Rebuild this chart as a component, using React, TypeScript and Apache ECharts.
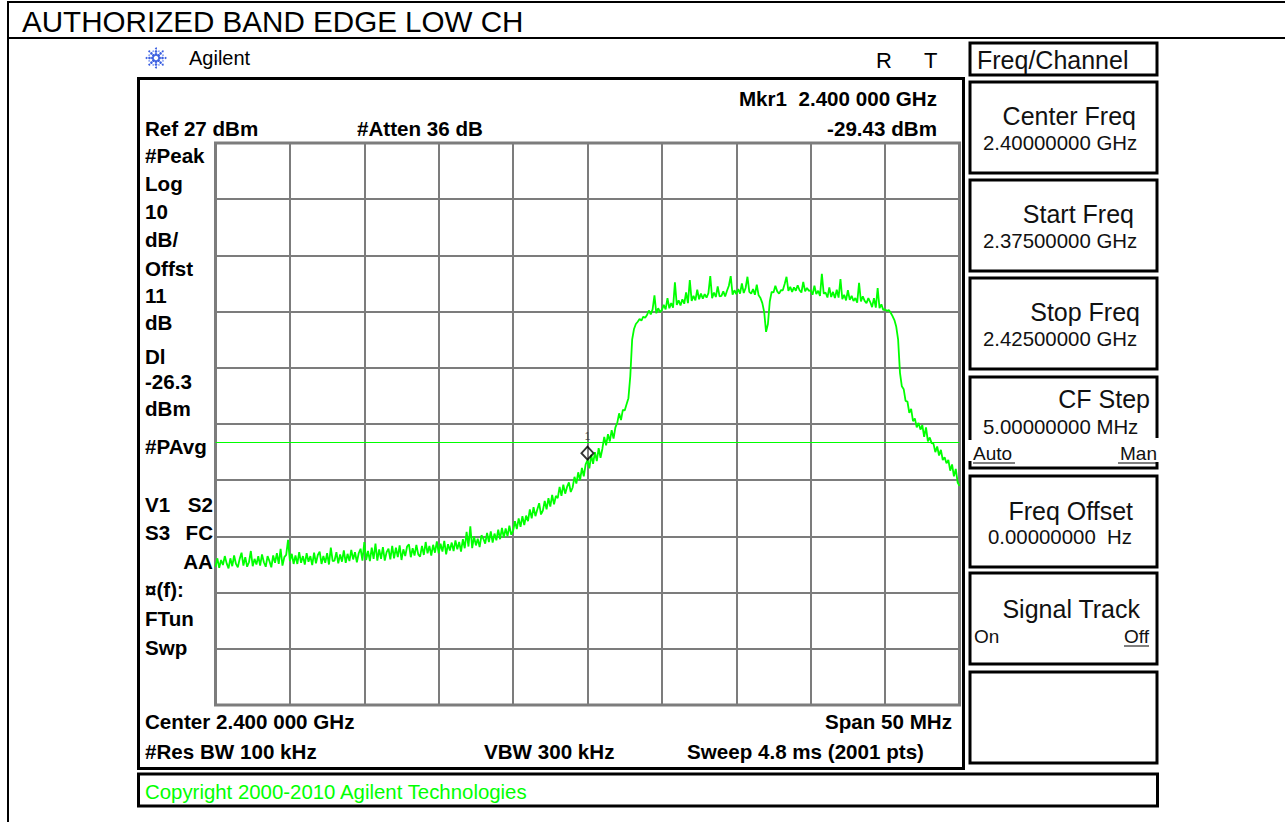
import React, { useEffect, useRef } from "react";
import * as echarts from "echarts";

// Analyzer state
const REF_LEVEL_DBM = 27;
const DB_PER_DIV = 10;
const START_MHZ = 2375;
const STOP_MHZ = 2425;
const DIV_MHZ = 5;
const STEP_MHZ = 0.125;
const DISPLAY_LINE_DBM = -26.3;
const MARKER_MHZ = 2400;
const MARKER_DBM = -29.43;

// Trace in dBm, one row per MHz (8 points each), starting at 2375 MHz
const traceLowerSkirt: number[][] = [
  [-48.4, -46.9, -48.6, -47.2, -48.1, -46.5, -47.8, -48.7],
  [-46.9, -48.3, -46.4, -47.9, -48.5, -47.0, -45.9, -48.2],
  [-46.7, -48.4, -47.6, -45.6, -48.3, -47.0, -48.0, -46.5],
  [-48.2, -46.2, -47.6, -48.4, -46.5, -47.4, -48.5, -46.4],
  [-47.7, -46.0, -47.9, -45.2, -48.2, -46.7, -46.3, -43.6],
  [-47.4, -46.1, -47.9, -46.4, -47.9, -45.8, -47.7, -46.5],
  [-48.0, -46.0, -47.5, -46.5, -48.1, -45.9, -47.8, -46.3],
  [-45.7, -47.9, -46.5, -47.7, -46.0, -48.0, -45.0, -47.4],
  [-47.3, -45.8, -47.8, -46.2, -47.5, -45.5, -47.7, -46.1],
  [-47.4, -45.4, -47.1, -45.8, -47.6, -46.0, -45.2, -47.3],
  [-44.0, -47.2, -45.6, -47.4, -45.0, -47.0, -44.3, -47.3],
  [-45.3, -47.0, -44.9, -47.3, -45.8, -45.2, -47.1, -44.7],
  [-46.9, -45.0, -46.7, -44.6, -47.2, -45.3, -46.5, -44.8],
  [-44.4, -46.7, -45.1, -46.4, -44.5, -46.2, -46.6, -44.7],
  [-46.3, -44.0, -46.0, -44.7, -46.4, -44.5, -45.9, -43.9],
  [-46.0, -44.3, -45.7, -43.8, -46.2, -44.4, -45.5, -44.1],
  [-45.6, -43.7, -45.3, -44.0, -45.7, -43.5, -45.1, -42.2],
  [-44.8, -41.2, -45.1, -43.0, -44.6, -43.4, -44.9, -42.8],
  [-43.4, -44.3, -42.4, -44.0, -42.1, -44.1, -42.5, -43.7],
  [-41.8, -43.5, -41.5, -43.2, -41.6, -43.0, -41.1, -42.7],
  [-42.0, -40.3, -41.7, -39.8, -41.3, -39.4, -41.0, -39.3],
  [-40.3, -38.2, -39.8, -37.8, -39.4, -38.2, -37.1, -39.1],
  [-38.4, -36.7, -38.2, -36.2, -37.7, -35.6, -37.3, -35.8],
  [-36.2, -34.2, -35.8, -33.8, -35.4, -34.2, -33.4, -35.1],
  [-34.3, -32.4, -33.6, -31.6, -33.0, -30.8, -32.3, -30.2],
];

const traceChannel: number[][] = [
  [-29.43, -30.9, -28.5, -30.1, -28.0, -29.6, -27.3, -29.0],
  [-27.4, -25.3, -26.8, -24.8, -26.1, -24.1, -25.6, -23.6],
  [-22.8, -21.1, -22.3, -20.5, -20.6, -19.5, -18.4, -14.5],
  [-8.0, -6.1, -5.2, -4.8, -4.3, -4.6, -3.9, -4.1],
  [-3.6, -2.8, -3.5, -2.6, -0.1, -3.3, -2.4, -3.1],
  [-2.7, -1.8, -2.6, -0.6, -2.4, -1.5, -2.3, 2.2],
  [-1.8, -1.0, -1.9, -0.8, -1.6, 0.4, -1.5, 2.6],
  [-1.1, -0.2, -1.0, 0.9, -0.8, 0.2, -0.7, 0.1],
  [-0.5, 0.3, 3.3, -0.6, 0.4, -0.4, 1.5, -0.3],
  [-0.2, 0.6, -0.3, 0.7, 1.6, 3.3, 0.0, 0.8],
  [0.1, 1.0, 0.2, 2.0, 0.3, 1.2, 3.2, 0.5],
  [0.2, 1.0, 0.0, 1.8, -0.1, -0.6, -1.5, -3.1],
  [-6.6, -5.2, -1.2, 0.5, 0.4, 1.6, 0.6, 0.2],
  [0.8, 0.8, 1.9, 3.2, 0.7, 1.4, 0.5, 1.3],
  [0.7, 1.7, 0.8, 0.4, 2.3, 0.6, 1.2, 0.7],
  [0.8, 0.0, 1.6, 0.1, 0.7, -0.2, 3.7, 0.2],
  [0.4, -0.5, 1.3, -0.4, 0.5, -0.6, 0.9, -0.5],
  [2.8, -0.8, 0.0, -1.0, 0.8, -0.9, -0.2, -1.1],
  [-0.6, -1.4, 2.1, -1.2, -0.3, -1.1, -1.5, -0.6],
  [-1.3, -2.2, -0.6, -2.3, 1.2, -2.4, -1.7, -2.7],
  [-2.6, -2.9, -2.7, -3.2, -3.8, -4.5, -5.7, -8.0],
];

const traceUpperSkirt: number[][] = [
  [-13.9, -16.3, -16.8, -18.9, -19.0, -21.0, -20.3, -22.5],
  [-22.0, -23.6, -22.8, -24.0, -23.2, -25.3, -23.6, -26.1],
  [-25.4, -26.4, -26.5, -28.0, -27.0, -28.6, -27.6, -29.4],
  [-28.9, -30.0, -29.4, -31.3, -30.2, -32.3, -31.0, -33.4],
  [-34.0],
];

const leftAnnotations = ["#Peak", "Log", `${DB_PER_DIV}`, "dB/", "Offst", "11", "dB", "Dl", DISPLAY_LINE_DBM.toFixed(1), "dBm", "#PAvg"];
const statusAnnotations = ["V1", "S2", "S3", "FC", "AA", "¤(f):", "FTun", "Swp"];

const softkeyTitles = ["Center Freq", "Start Freq", "Stop Freq", "CF Step", "Freq Offset", "Signal Track"];
const softkeyValues = ["2.40000000 GHz", "2.37500000 GHz", "2.42500000 GHz", "5.00000000 MHz", "0.00000000  Hz"];

const FONT = '"Liberation Sans", Arial, sans-serif';
const GREEN = "#00ff00";
const GRID_GRAY = "#7c7c7c";
const LABEL_SIZE = 20.6;
const KEY_SIZE = 25;

function fmtGHz(mhz: number): string {
  const s = (mhz / 1000).toFixed(6);
  return `${s.slice(0, 5)} ${s.slice(5)} GHz`;
}

function text(x: number, y: number, t: string, o: any = {}) {
  return {
    type: "text",
    x,
    y,
    silent: true,
    z: 10,
    style: {
      text: t,
      fill: o.fill ?? "#000",
      fontSize: o.size ?? LABEL_SIZE,
      fontWeight: o.bold ? "bold" : "normal",
      fontFamily: FONT,
      align: o.align ?? "left",
      verticalAlign: "middle",
    },
  };
}

function box(x: number, y: number, w: number, h: number, lw = 3) {
  return {
    type: "rect",
    silent: true,
    z: 5,
    shape: { x, y, width: w, height: h },
    style: { fill: "none", stroke: "#000", lineWidth: lw },
  };
}

function poly(points: number[][], lw = 3) {
  return { type: "polyline", silent: true, z: 5, shape: { points }, style: { fill: "none", stroke: "#000", lineWidth: lw } };
}

function underline(x1: number, x2: number, y: number) {
  return { type: "line", silent: true, z: 10, shape: { x1, y1: y, x2, y2: y }, style: { stroke: "#000", lineWidth: 1 } };
}

function buildGraphics() {
  const g: any[] = [];
  // page frame and title row
  g.push({ type: "line", silent: true, shape: { x1: 8, y1: 2, x2: 1285, y2: 2 }, style: { stroke: "#000", lineWidth: 2 } });
  g.push({ type: "line", silent: true, shape: { x1: 8, y1: 1, x2: 8, y2: 822 }, style: { stroke: "#000", lineWidth: 2 } });
  g.push({ type: "line", silent: true, shape: { x1: 8, y1: 38, x2: 1285, y2: 38 }, style: { stroke: "#000", lineWidth: 2 } });
  g.push(text(22, 21, "AUTHORIZED BAND EDGE LOW CH", { size: 29.6 }));

  // Agilent spark logo
  const cx = 156, cy = 58;
  for (let a = 0; a < 8; a++) {
    const ang = (a * Math.PI) / 4;
    [[3.5, 1.5], [6.5, 1.3], [9.5, 1.0]].forEach(([r, s]) => {
      g.push({ type: "circle", silent: true, shape: { cx: cx + r * Math.cos(ang), cy: cy + r * Math.sin(ang), r: s }, style: { fill: "#3b5fe0" } });
    });
    const a2 = ang + Math.PI / 8;
    g.push({ type: "circle", silent: true, shape: { cx: cx + 7.5 * Math.cos(a2), cy: cy + 7.5 * Math.sin(a2), r: 0.8 }, style: { fill: "#6f8cf0" } });
  }
  g.push(text(189, 58, "Agilent", { size: 20 }));
  g.push(text(876, 60, "R", { size: 22 }));
  g.push(text(924, 60, "T", { size: 22 }));

  // display frame
  g.push(box(138.5, 78.5, 825, 690));
  g.push(text(937, 98, `Mkr1  ${fmtGHz(MARKER_MHZ)}`, { bold: true, align: "right" }));
  g.push(text(937, 128, `${MARKER_DBM.toFixed(2)} dBm`, { bold: true, align: "right" }));
  g.push(text(145, 128, `Ref ${REF_LEVEL_DBM} dBm`, { bold: true }));
  g.push(text(357, 128, "#Atten 36 dB", { bold: true }));

  const leftY = [155, 183, 211, 239, 268, 295, 322, 356, 381, 408, 446];
  leftAnnotations.forEach((t, i) => g.push(text(145, leftY[i], t, { bold: true })));
  g.push(text(145, 504, statusAnnotations[0], { bold: true }));
  g.push(text(213, 504, statusAnnotations[1], { bold: true, align: "right" }));
  g.push(text(145, 532, statusAnnotations[2], { bold: true }));
  g.push(text(213, 532, statusAnnotations[3], { bold: true, align: "right" }));
  g.push(text(213, 561, statusAnnotations[4], { bold: true, align: "right" }));
  g.push(text(145, 589, statusAnnotations[5], { bold: true }));
  g.push(text(145, 618, statusAnnotations[6], { bold: true }));
  g.push(text(145, 647, statusAnnotations[7], { bold: true }));

  g.push(text(145, 721, `Center ${fmtGHz((START_MHZ + STOP_MHZ) / 2)}`, { bold: true }));
  g.push(text(952, 721, `Span ${STOP_MHZ - START_MHZ} MHz`, { bold: true, align: "right" }));
  g.push(text(145, 751, "#Res BW 100 kHz", { bold: true }));
  g.push(text(484, 751, "VBW 300 kHz", { bold: true }));
  g.push(text(687, 751, "Sweep 4.8 ms (2001 pts)", { bold: true }));

  // copyright bar
  g.push(box(138.5, 774, 1019, 32));
  g.push(text(145, 792, "Copyright 2000-2010 Agilent Technologies", { fill: GREEN, size: 20.4 }));

  // softkey menu
  g.push(box(970, 43, 187, 32));
  g.push(text(977, 60, "Freq/Channel", { size: KEY_SIZE, fill: "#111" }));
  const tops = [82, 180, 278, 377, 476, 573, 672];
  const titleRight = [1136, 1134, 1140, 1150, 1133, 1140];
  tops.forEach((t, i) => {
    if (i === 3) {
      g.push(poly([[970, 440], [970, t], [1157, t], [1157, 438]]));
      g.push(poly([[970, 461], [970, 468], [1157, 468], [1157, 462]]));
    } else {
      g.push(box(970, t, 187, 91));
    }
  });
  [0, 1, 2].forEach((i) => {
    g.push(text(titleRight[i], tops[i] + 34, softkeyTitles[i], { size: KEY_SIZE, align: "right", fill: "#111" }));
    g.push(text(983, tops[i] + 61, softkeyValues[i], { size: 20.4, fill: "#111" }));
  });
  g.push(text(titleRight[3], 399, softkeyTitles[3], { size: KEY_SIZE, align: "right", fill: "#111" }));
  g.push(text(983, 427, softkeyValues[3], { size: 20.4, fill: "#111" }));
  g.push(text(973, 453, "Auto", { size: 19, fill: "#111" }));
  g.push(underline(973, 1015, 463));
  g.push(text(1157, 453, "Man", { size: 19, align: "right", fill: "#111" }));
  g.push(underline(1118, 1157, 463));
  g.push(text(titleRight[4], tops[4] + 35, softkeyTitles[4], { size: KEY_SIZE, align: "right", fill: "#111" }));
  g.push(text(988, tops[4] + 61, softkeyValues[4], { size: 20.4, fill: "#111" }));
  g.push(text(titleRight[5], tops[5] + 36, softkeyTitles[5], { size: KEY_SIZE, align: "right", fill: "#111" }));
  g.push(text(974, tops[5] + 63, "On", { size: 19, fill: "#111" }));
  g.push(text(1149, tops[5] + 63, "Off", { size: 19, align: "right", fill: "#111" }));
  g.push(underline(1124, 1149, tops[5] + 73));
  return g;
}

export default function App() {
  const ref = useRef<HTMLDivElement>(null);

  useEffect(() => {
    if (!ref.current) return;
    const chart = echarts.init(ref.current, undefined, { renderer: "svg" });
    const trace = [...traceLowerSkirt, ...traceChannel, ...traceUpperSkirt].flat();
    const data = trace.map((v, i) => [START_MHZ + i * STEP_MHZ, v - REF_LEVEL_DBM]);

    chart.setOption({
      animation: false,
      backgroundColor: "#fff",
      grid: {
        left: 215.5,
        top: 143,
        width: 744,
        height: 562,
        show: true,
        borderColor: GRID_GRAY,
        borderWidth: 3,
        backgroundColor: "transparent",
      },
      xAxis: {
        type: "value",
        min: START_MHZ,
        max: STOP_MHZ,
        interval: DIV_MHZ,
        axisLabel: { show: false },
        axisTick: { show: false },
        axisLine: { show: false },
        splitLine: { show: true, lineStyle: { color: GRID_GRAY, width: 2 } },
      },
      yAxis: {
        // dB relative to the reference level, 10 divisions
        type: "value",
        min: -10 * DB_PER_DIV,
        max: 0,
        interval: DB_PER_DIV,
        axisLabel: { show: false },
        axisTick: { show: false },
        axisLine: { show: false },
        splitLine: { show: true, lineStyle: { color: GRID_GRAY, width: 2 } },
      },
      series: [
        {
          type: "line",
          data,
          symbol: "none",
          z: 3,
          lineStyle: { color: GREEN, width: 1.8 },
          markLine: {
            silent: true,
            symbol: "none",
            label: { show: false },
            lineStyle: { color: GREEN, width: 1, type: "solid" },
            data: [{ yAxis: DISPLAY_LINE_DBM - REF_LEVEL_DBM }],
          },
        },
        {
          type: "scatter",
          z: 4,
          data: [[MARKER_MHZ, MARKER_DBM - REF_LEVEL_DBM]],
          symbol: "diamond",
          symbolSize: [12, 13],
          symbolOffset: [0, -7],
          itemStyle: { color: "rgba(255,255,255,0)", borderColor: "#000", borderWidth: 2 },
          label: { show: true, position: "top", distance: 4, formatter: "1", fontSize: 10, color: "#333", fontFamily: FONT },
        },
      ],
      graphic: buildGraphics(),
    });
    return () => chart.dispose();
  }, []);

  return <div ref={ref} style={{ position: "absolute", left: 0, top: 0, width: 1285, height: 822, background: "#fff" }} />;
}
